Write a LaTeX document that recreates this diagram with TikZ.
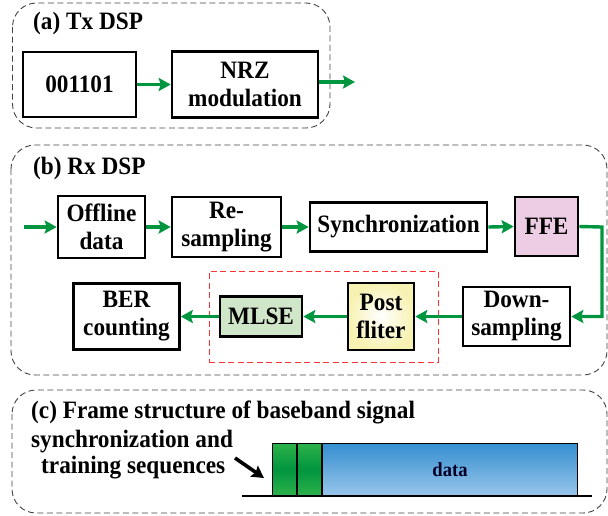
\documentclass[tikz,border=0pt]{standalone}
\usepackage{fontspec}
\setmainfont{Liberation Serif}[FakeStretch=0.93]
\usetikzlibrary{arrows.meta,shadings}
\definecolor{arrgreen}{HTML}{00963F}
\definecolor{ffepink}{HTML}{EDCDE3}
\definecolor{mlsegreen}{HTML}{CFE6C8}
\definecolor{postyellow}{HTML}{F7F2B2}
\definecolor{framegray}{HTML}{444444}
\definecolor{seqlight}{HTML}{2DB24A}
\definecolor{seqdark}{HTML}{00953F}
\definecolor{bluetop}{HTML}{358FD0}
\definecolor{bluebot}{HTML}{98C5EA}
\begin{document}
\begin{tikzpicture}[x=1pt,y=-1pt,
  font=\fontsize{25}{28}\selectfont\bfseries,
  blk/.style={draw=black,line width=2.6pt,align=center,inner sep=0pt},
  flow/.style={draw=arrgreen,line width=3.4pt,-{Stealth[length=12pt,width=13pt,inset=2pt]}},
  frame/.style={draw=framegray,line width=0.9pt,dash pattern=on 6pt off 3.5pt,rounded corners=24pt},
  ttl/.style={anchor=west,inner sep=0pt},
  seq/.style={draw=black,line width=1pt,top color=seqlight,bottom color=seqlight,middle color=seqdark,minimum height=52pt,inner sep=0pt,anchor=south west}]
\useasboundingbox (0,0) rectangle (608,515);
% frames
\draw[frame] (12.5,3) rectangle (330,128);
\draw[frame] (11,145) rectangle (607,375);
\draw[frame] (12,390) rectangle (607,513);
\node[ttl] (ta) at (33,23) {(a) Tx DSP};
\node[ttl] (tb) at (33,168) {(b) Rx DSP};
\node[ttl] (tc) at (31,412) {(c) Frame structure of baseband signal};
% (a)
\node[blk,minimum width=113pt,minimum height=65pt] (bits) at (79.5,84.5) {001101};
\node[blk,minimum width=146pt,minimum height=66pt] (nrz) at (245,84.5) {NRZ\\modulation};
\coordinate (aout) at (355,82);
\draw[flow] (bits.east) -- (nrz.west);
\draw[flow] (nrz.east |- aout) -- (aout);
% (b) row 1
\coordinate (bin) at (24,227);
\node[blk,minimum width=87pt,minimum height=62pt] (off) at (101.5,227) {Offline\\data};
\node[blk,minimum width=109pt,minimum height=60pt] (res) at (226.5,227) {Re-\\sampling};
\node[blk,minimum width=177pt,minimum height=49pt] (syn) at (398.5,227) {Synchronization};
\node[blk,fill=ffepink,minimum width=63pt,minimum height=59pt] (ffe) at (546.5,226.5) {FFE};
% row 2
\node[draw=red!80!white,line width=1pt,dash pattern=on 6pt off 3.5pt,minimum width=229pt,minimum height=91pt,inner sep=0pt] (red) at (323.5,316.5) {};
\node[blk,minimum width=107pt,minimum height=59pt] (down) at (516.5,316.5) {Down-\\sampling};
\node[blk,inner color=white,outer color=postyellow,minimum width=66pt,minimum height=67pt] (post) at (381,316.5) {Post\\fliter};
\node[blk,fill=mlsegreen,minimum width=82pt,minimum height=40pt] (mlse) at (261,316.5) {MLSE};
\node[blk,minimum width=106pt,minimum height=66pt] (ber) at (126.5,316.5) {BER\\counting};
\coordinate (turn) at (602,227);
\draw[flow] (bin) -- (off.west);
\draw[flow] (off.east) -- (res.west);
\draw[flow] (res.east) -- (syn.west);
\draw[flow] (syn.east) -- (ffe.west);
\draw[flow] (ffe.east) -- (turn) |- (down.east);
\draw[flow] (down.west) -- (post.east);
\draw[flow] (post.west) -- (mlse.east);
\draw[flow] (mlse.west) -- (ber.east);
% (c)
\node[ttl] (s1) at (31,442) {synchronization and};
\node[ttl] (s2) at (41,468) {training sequences};
\coordinate (base0) at (242,496);
\coordinate (base1) at (592,496);
\node[seq,minimum width=24pt] (g1) at (272,496) {};
\node[seq,minimum width=24pt] (g2) at (g1.south east) {};
\node[draw=black,line width=1pt,top color=bluetop,bottom color=bluebot,minimum width=255pt,minimum height=52pt,inner sep=0pt,anchor=south west,font=\fontsize{20}{22}\selectfont\bfseries,text=black!85!blue] (dat) at (g2.south east) {data};
\draw[black,line width=1.3pt] (base0) -- (base1);
\coordinate (ar0) at (235,458);
\coordinate (ar1) at (264,478);
\draw[black,line width=3.6pt,-{Stealth[length=12pt,width=13pt,inset=2pt]}] (ar0) -- (ar1);
\end{tikzpicture}
\end{document}
